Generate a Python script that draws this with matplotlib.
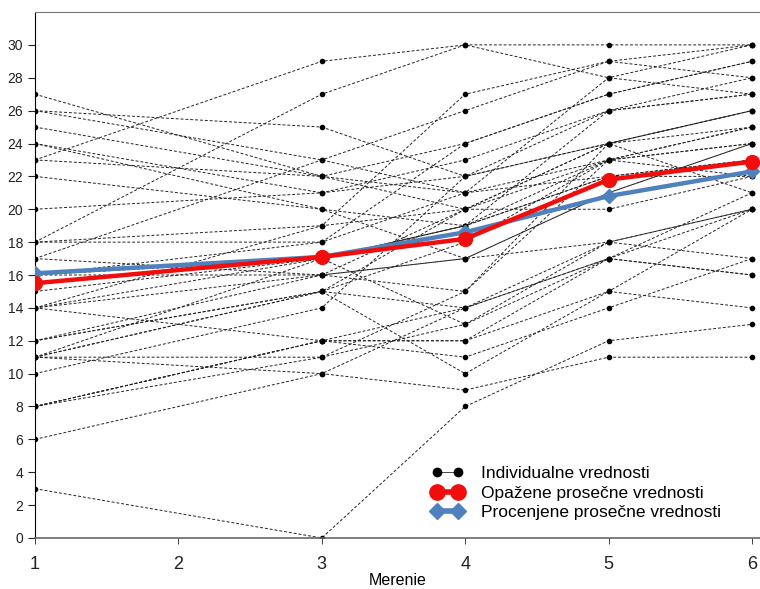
import matplotlib
matplotlib.use("Agg")
import matplotlib.pyplot as plt
from matplotlib.lines import Line2D

# measurement occasions (no data at 2)
occasions = [1, 3, 4, 5, 6]

# individual trajectories, one list per subject (values at occasions)
subjects = [
    [27, 22, 24, 27, 29],
    [26, 25, 22, 24, 26],
    [26, 23, 21, 23, 25],
    [25, 22, 20, 23, 25],
    [24, 21, 22, 24, 26],
    [24, 20, 19, 26, 27],
    [23, 29, 30, 30, 30],
    [23, 22, 21, 22, 23],
    [22, 20, 17, 18, 20],
    [20, 21, 23, 26, 28],
    [18, 27, 30, 28, 27],
    [18, 18, 24, 27, 29],
    [17, 23, 26, 29, 30],
    [17, 16, 20, 24, 25],
    [16, 17, 19, 22, 22],
    [16, 18, 21, 28, 30],
    [15, 17, 13, 18, 17],
    [14, 19, 27, 29, 28],
    [14, 16, 15, 23, 24],
    [14, 12, 14, 17, 16],
    [12, 16, 17, 21, 24],
    [12, 15, 10, 15, 14],
    [11, 15, 20, 24, 26],
    [11, 15, 14, 18, 20],
    [11, 11, 13, 17, 16],
    [11, 10, 9, 11, 11],
    [10, 14, 22, 26, 27],
    [8, 11, 15, 24, 21],
    [8, 12, 12, 15, 20],
    [8, 12, 11, 14, 17],
    [6, 10, 14, 17, 21],
    [3, 0, 8, 12, 13],
    [8, 12, 12, 17, 20],
    [14, 17, 19, 22, 23],
    [16, 16, 17, 21, 24],
    [12, 15, 18, 23, 22],
    [18, 19, 20, 20, 22],
    [11, 17, 19, 23, 24],
]

observed_mean = [15.5, 17.1, 18.2, 21.8, 22.9]
estimated_mean = [16.1, 17.1, 18.6, 20.8, 22.3]

red = "#f20d0d"
blue = "#4f81bd"

fig = plt.figure(figsize=(7.6, 5.89), dpi=100)
ax = fig.add_axes([0.046, 0.0866, 0.954, 0.893])

for s in subjects:
    ax.plot(occasions, s, color="#222222", linestyle=(0, (3, 2)), linewidth=0.7,
            marker="o", markersize=3, markerfacecolor="black",
            markeredgecolor="black", zorder=2)

ax.plot(occasions, estimated_mean, color=blue, linewidth=3.2, marker="D",
        markersize=7, zorder=4)
ax.plot(occasions, observed_mean, color=red, linewidth=3.2, marker="o",
        markersize=10, zorder=5)

ax.set_xlim(1, 6.056)
ax.set_ylim(0, 32)
ax.set_xticks([1, 2, 3, 4, 5, 6])
ax.set_yticks(range(0, 31, 2))
ax.tick_params(axis="y", labelsize=10, colors="#222222", length=5, width=0.8)
ax.tick_params(axis="x", labelsize=13, colors="#222222", length=4, width=0.6,
               pad=9)
for lab in ax.get_xticklabels() + ax.get_yticklabels():
    lab.set_fontfamily("Liberation Sans")
ax.set_xlabel("Merenie", fontsize=11.5, family="Liberation Sans", labelpad=0)

ax.spines["right"].set_visible(False)
ax.spines["top"].set_color("#777777")
ax.spines["bottom"].set_color("#666666")
ax.spines["bottom"].set_linewidth(1.2)
ax.spines["left"].set_color("black")

handles = [
    Line2D([0], [0], color="black", linestyle="-", linewidth=0.5,
           marker="o", markersize=6),
    Line2D([0], [0], color=red, linewidth=4, marker="o", markersize=11),
    Line2D([0], [0], color=blue, linewidth=4, marker="D", markersize=8),
]
labels = ["Individualne vrednosti", "Opažene prosečne vrednosti",
          "Procenjene prosečne vrednosti"]
ax.legend(handles, labels, loc="lower left", bbox_to_anchor=(0.526, 0.004),
          frameon=False, numpoints=2, handlelength=1.8, handletextpad=1.0,
          labelspacing=0.25,
          prop={"family": "Liberation Sans", "size": 12.5})

fig.savefig("out.png", dpi=100)
